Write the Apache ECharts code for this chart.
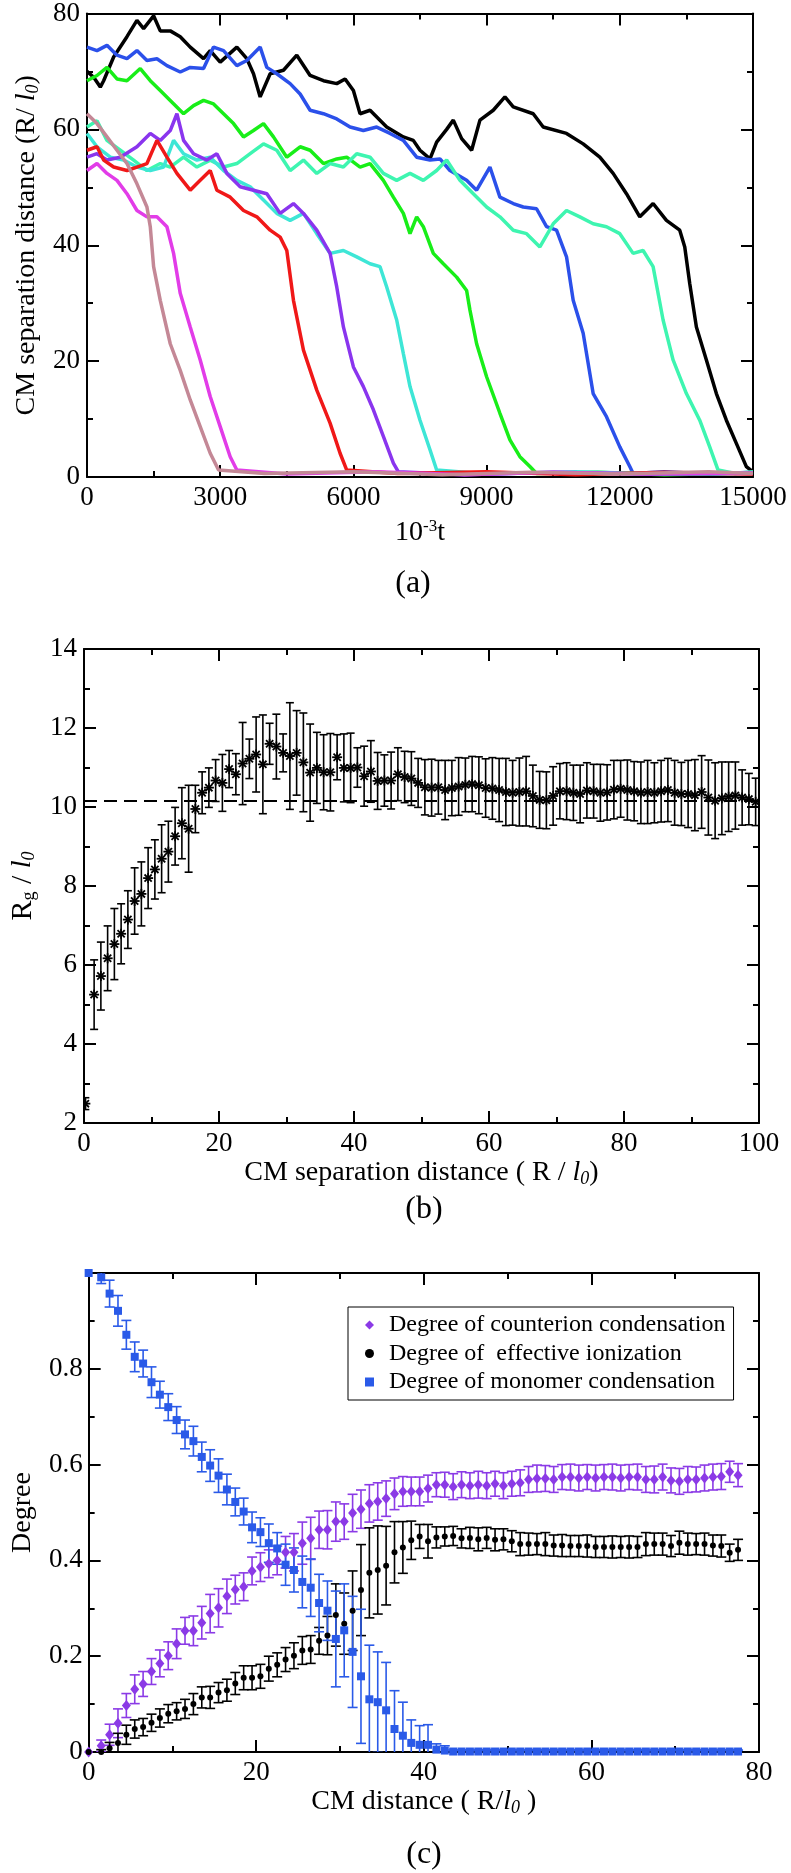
<!DOCTYPE html>
<html><head><meta charset="utf-8">
<script src="https://cdn.jsdelivr.net/npm/echarts@6/dist/echarts.min.js"></script>
<style>html,body{margin:0;padding:0;background:#fff}#c{width:791px;height:1873px}</style>
</head><body><div id="c"></div>
<script>
// ---------- Panel (a): CM separation vs time ----------
const aTicksX = [0, 3000, 6000, 9000, 12000, 15000];
const aTicksY = [0, 20, 40, 60, 80];
const lineBlack = [[0,70],[150,69],[300,67.3],[375,68.4],[600,72.5],[900,76],[1125,78.8],[1275,77.4],[1500,79.6],[1650,77],[1875,77],[2100,76],[2325,74.2],[2625,72.2],[2775,73.6],[3000,71.6],[3375,74.2],[3600,72.2],[3750,69.6],[3900,65.6],[4125,69.6],[4425,70.2],[4725,72.8],[5025,69.3],[5325,68.4],[5625,67.9],[5813,68.7],[6000,66.7],[6150,62.7],[6375,63.3],[6750,60.4],[7125,58.7],[7349,58.1],[7500,56.4],[7725,54.9],[7875,57.8],[8100,60],[8250,61.6],[8438,58.4],[8663,56.4],[8850,61.6],[9150,63.3],[9413,65.6],[9600,63.9],[10050,62.7],[10275,60.4],[10800,59.3],[11175,57.5],[11550,55.2],[11850,52.4],[12150,48.9],[12450,44.9],[12750,47.2],[13050,44.3],[13350,42.6],[13463,39.7],[13575,33.4],[13725,25.9],[13950,20.2],[14175,14.4],[14400,9.8],[14625,5.8],[14850,1.8],[15000,0.9]];
const lineBlue = [[0,74.2],[225,73.6],[450,74.5],[675,72.8],[900,72.2],[1125,73.6],[1350,71.9],[1575,72.2],[1800,71],[2100,69.9],[2325,70.7],[2625,70.5],[2850,74.2],[3075,73.6],[3375,71],[3600,71.9],[3900,74.2],[4050,70.7],[4275,69.6],[4575,67.9],[4800,66.1],[5025,63.3],[5325,62.7],[5625,61.8],[5925,60.4],[6225,59.8],[6525,60.4],[6825,59.3],[7125,58.1],[7425,55.2],[7725,54.7],[7950,54.9],[8175,52.9],[8550,51.2],[8775,49.5],[9075,53.5],[9300,48.3],[9600,47.2],[9825,46.6],[10125,46.3],[10350,43.2],[10575,42.6],[10800,38],[10950,30.5],[11175,24.8],[11400,14.4],[11700,10.4],[12000,5.2],[12225,1.8],[12300,0.6],[13000,0.9],[14000,0.5],[15000,0.8]];
const lineGreen = [[0,68.4],[225,69.3],[450,70.7],[675,68.7],[900,68.4],[1200,70.5],[1425,68.4],[1650,66.7],[1875,65],[2175,62.7],[2400,64.1],[2625,65],[2850,64.4],[3075,62.7],[3300,61],[3525,58.7],[3750,59.8],[3975,61],[4200,58.7],[4500,55.2],[4800,57],[5025,56.4],[5325,54.1],[5625,54.9],[5850,55.2],[6150,53.5],[6375,54.1],[6675,51.2],[6900,48.3],[7125,45.5],[7275,42],[7425,44.9],[7575,43.2],[7800,38.6],[8025,36.8],[8325,34.5],[8550,32.2],[8625,28.8],[8775,23],[9000,17.3],[9300,11],[9525,6.4],[9750,3.5],[9975,1.8],[10125,0.6],[11500,0.8],[13000,0.4],[15000,0.7]];
const lineAqua = [[0,60.4],[225,61.5],[450,58.1],[750,56.4],[1050,54.7],[1350,52.9],[1650,54.1],[1875,53.5],[2175,55.2],[2475,53.5],[2775,54.7],[3075,53.5],[3375,54.1],[3675,55.8],[3975,57.5],[4275,56.4],[4575,52.9],[4875,54.7],[5175,52.4],[5475,54.1],[5775,53.5],[6075,55.8],[6375,55.2],[6675,52.4],[6975,51.2],[7275,52.4],[7575,51.2],[7875,52.9],[8100,54.7],[8400,51.2],[8700,48.9],[9000,46.6],[9300,44.9],[9600,42.6],[9900,42],[10200,39.7],[10500,43.7],[10800,46],[11100,44.9],[11400,43.7],[11700,43.2],[12000,42],[12300,38.6],[12525,39.1],[12750,36.3],[12975,27.1],[13200,20.2],[13500,14.4],[13800,9.8],[14025,5.2],[14213,1.2],[14600,0.6],[15000,0.9]];
const lineTurq = [[0,59.3],[225,57],[525,55.2],[825,54.7],[1125,53.5],[1425,52.9],[1725,53.5],[1950,58.1],[2175,55.8],[2475,54.7],[2775,55.2],[3075,52.9],[3375,51.2],[3675,50.1],[3975,47.8],[4275,45.5],[4575,44.3],[4875,45.5],[5175,42],[5475,38.6],[5775,39.1],[6075,38],[6375,36.8],[6600,36.3],[6750,32.8],[6975,27.1],[7125,21.3],[7275,15.6],[7500,9.8],[7725,4.7],[7875,1.2],[9000,0.5],[11000,0.9],[13000,0.5],[15000,0.7]];
const lineViolet = [[0,55.2],[225,55.8],[450,54.7],[750,55.2],[1125,57],[1425,59.3],[1650,58.1],[1875,59.8],[2025,62.7],[2175,58.1],[2400,55.8],[2700,54.7],[2925,55.8],[3150,52.4],[3450,50.1],[3750,49.5],[4050,48.9],[4350,45.5],[4650,47.2],[4875,45.5],[5175,42.6],[5475,38.6],[5625,32.8],[5775,25.9],[6000,19],[6225,15.6],[6450,11.6],[6675,7],[6900,2.4],[7013,0.9],[8500,0.4],[10500,0.8],[12500,0.5],[15000,0.6]];
const lineRed = [[0,56.4],[225,57],[375,54.7],[600,53.5],[900,52.9],[1125,53.5],[1350,54.1],[1575,58.1],[1800,55.2],[2025,52.4],[2325,49.5],[2550,51.2],[2775,52.9],[2925,49.5],[3225,48.3],[3525,46],[3825,44.9],[4125,42.6],[4350,41.4],[4500,39.1],[4650,30.5],[4875,21.9],[5175,15],[5475,9.3],[5700,4.1],[5850,1.2],[7000,0.6],[9000,0.9],[11000,0.4],[13000,0.8],[15000,0.5]];
const lineMagenta = [[0,52.9],[225,54.1],[450,52.4],[675,51.2],[900,48.9],[1125,46],[1350,44.9],[1575,44.9],[1800,43.2],[1950,38.6],[2100,31.7],[2325,25.9],[2550,20.2],[2775,13.9],[3000,8.7],[3225,3.5],[3375,1.2],[4500,0.5],[6500,0.9],[8500,0.4],[10500,0.8],[12500,0.5],[15000,0.7]];
const lineRosy = [[0,62.7],[225,61],[450,58.7],[675,56.4],[900,54.1],[1125,50.6],[1350,46.6],[1425,43.2],[1500,36.3],[1650,30.5],[1875,23],[2100,18.4],[2325,13.3],[2550,8.7],[2775,4.1],[2963,1.2],[4000,0.6],[6000,0.9],[8000,0.4],[10000,0.8],[12000,0.5],[14000,0.9],[15000,0.6]];

// ---------- Panel (b): Rg vs CM separation ----------
const bTicksX = [0, 20, 40, 60, 80, 100];
const bTicksY = [2, 4, 6, 8, 10, 12, 14];
const rgRef = 10.15;
const xb = [0.2,1.5,2.5,3.5,4.5,5.5,6.5,7.5,8.5,9.5,10.5,11.5,12.5,13.5,14.5,15.5,16.5,17.5,18.5,19.5,20.5,21.5,22.5,23.5,24.5,25.5,26.5,27.5,28.5,29.5,30.5,31.5,32.5,33.5,34.5,35.5,36.5,37.5,38.5,39.5,40.5,41.5,42.5,43.5,44.5,45.5,46.5,47.5,48.5,49.5,50.5,51.5,52.5,53.5,54.5,55.5,56.5,57.5,58.5,59.5,60.5,61.5,62.5,63.5,64.5,65.5,66.5,67.5,68.5,69.5,70.5,71.5,72.5,73.5,74.5,75.5,76.5,77.5,78.5,79.5,80.5,81.5,82.5,83.5,84.5,85.5,86.5,87.5,88.5,89.5,90.5,91.5,92.5,93.5,94.5,95.5,96.5,97.5,98.5,99.5];
const yb = [2.49,5.25,5.72,6.17,6.53,6.79,7.15,7.62,7.80,8.20, 8.42,8.69,8.87,9.26,9.59,9.45,9.95,10.36,10.49,10.67, 10.61,10.96,10.83,11.10,11.22,11.33,11.08,11.60,11.53,11.37, 11.29,11.37,11.13,10.87,10.99,10.88,10.88,11.26,10.99,10.99, 11.00,10.78,10.90,10.66,10.67,10.67,10.83,10.76,10.72,10.61, 10.50,10.49,10.50,10.43,10.48,10.52,10.56,10.58,10.55,10.48, 10.47,10.43,10.38,10.36,10.38,10.40,10.28,10.18,10.17,10.28, 10.40,10.40,10.36,10.33,10.42,10.40,10.36,10.37,10.44,10.46, 10.43,10.40,10.36,10.38,10.36,10.40,10.43,10.36,10.33,10.33, 10.30,10.38,10.24,10.16,10.22,10.26,10.29,10.24,10.20,10.13];
const eb = [0.15,0.88,0.86,0.82,0.9,0.76,0.73,0.84,0.81,0.77, 0.75,0.86,0.77,0.73,0.9,1.1,0.6,0.53,0.5,0.53, 0.72,0.47,0.52,1.04,0.5,0.95,1.25,0.52,0.82,0.48, 1.35,1.07,1.25,1.23,0.9,0.95,0.98,0.57,0.86,0.88, 0.5,0.76,0.78,0.72,0.65,0.72,0.67,0.65,0.68,0.62, 0.7,0.72,0.68,0.75,0.7,0.73,0.68,0.7,0.72,0.74, 0.78,0.8,0.85,0.82,0.86,0.88,0.78,0.72,0.72,0.74, 0.7,0.72,0.7,0.73,0.7,0.68,0.72,0.7,0.74,0.72, 0.76,0.75,0.78,0.8,0.76,0.78,0.8,0.82,0.8,0.85, 0.9,0.92,0.95,0.96,0.92,0.88,0.85,0.7,0.65,0.6];

// ---------- Panel (c): degrees vs CM distance ----------
const cTicksX = [0, 20, 40, 60, 80];
const cTicksY = [0, 0.2, 0.4, 0.6, 0.8, 1.0];
const xc = [0,1.5,2.5,3.5,4.5,5.5,6.5,7.5,8.5,9.5,10.5,11.5,12.5,13.5,14.5,15.5,16.5,17.5,18.5,19.5,20.5,21.5,22.5,23.5,24.5,25.5,26.5,27.5,28.5,29.5,30.5,31.5,32.5,33.5,34.5,35.5,36.5,37.5,38.5,39.5,40.5,41.5,42.5,43.5,44.5,45.5,46.5,47.5,48.5,49.5,50.5,51.5,52.5,53.5,54.5,55.5,56.5,57.5,58.5,59.5,60.5,61.5,62.5,63.5,64.5,65.5,66.5,67.5,68.5,69.5,70.5,71.5,72.5,73.5,74.5,75.5,76.5,77.5];
const counterion = [0,0.013,0.036,0.06,0.097,0.131,0.142,0.168,0.185,0.201, 0.226,0.253,0.253,0.27,0.289,0.301,0.325,0.339,0.345,0.378, 0.386,0.393,0.4,0.417,0.417,0.436,0.446,0.464,0.464,0.481, 0.481,0.499,0.507,0.519,0.523,0.529,0.539,0.544,0.544,0.544, 0.55,0.558,0.558,0.554,0.558,0.556,0.558,0.556,0.56,0.556, 0.56,0.562,0.569,0.571,0.571,0.569,0.574,0.574,0.572,0.574, 0.572,0.574,0.574,0.572,0.574,0.574,0.569,0.569,0.574,0.567, 0.565,0.569,0.569,0.572,0.574,0.575,0.585,0.578];
const counterionErr = [0,0.012,0.022,0.03,0.025,0.03,0.026,0.027,0.028,0.029, 0.031,0.028,0.031,0.034,0.04,0.04,0.036,0.03,0.029,0.029, 0.03,0.029,0.03,0.033,0.039,0.044,0.044,0.039,0.04,0.041, 0.037,0.039,0.04,0.039,0.039,0.037,0.033,0.031,0.03,0.03, 0.028,0.025,0.026,0.027,0.027,0.027,0.028,0.027,0.026,0.027, 0.026,0.027,0.027,0.028,0.027,0.027,0.026,0.027,0.027,0.026, 0.027,0.026,0.027,0.027,0.026,0.027,0.027,0.028,0.027,0.026, 0.027,0.027,0.026,0.027,0.027,0.027,0.022,0.024];
const ionization = [0,0,0.008,0.019,0.036,0.048,0.052,0.061,0.071,0.08, 0.085,0.09,0.1,0.114,0.114,0.124,0.129,0.143,0.155,0.155, 0.158,0.174,0.182,0.193,0.201,0.212,0.214,0.232,0.243,0.286, 0.268,0.295,0.338,0.374,0.38,0.389,0.417,0.427,0.442,0.45, 0.44,0.448,0.45,0.451,0.446,0.447,0.444,0.447,0.443,0.444, 0.44,0.434,0.434,0.434,0.434,0.431,0.431,0.43,0.43,0.43, 0.428,0.428,0.428,0.428,0.428,0.428,0.434,0.434,0.434,0.43, 0.437,0.434,0.434,0.434,0.431,0.43,0.416,0.422];
const ionizationErr = [0,0.005,0.012,0.02,0.02,0.019,0.018,0.018,0.019,0.019, 0.018,0.02,0.022,0.022,0.023,0.021,0.023,0.023,0.025,0.025, 0.025,0.026,0.025,0.025,0.027,0.029,0.029,0.028,0.04,0.065, 0.064,0.083,0.095,0.094,0.092,0.082,0.064,0.054,0.04,0.025, 0.035,0.022,0.02,0.02,0.02,0.022,0.024,0.022,0.023,0.022, 0.022,0.024,0.023,0.022,0.024,0.022,0.023,0.022,0.022,0.023, 0.022,0.022,0.023,0.022,0.023,0.022,0.024,0.023,0.023,0.022, 0.024,0.023,0.022,0.023,0.022,0.023,0.018,0.022];
const monomer = [1.0,0.991,0.957,0.921,0.871,0.825,0.811,0.772,0.746,0.72, 0.693,0.663,0.649,0.616,0.598,0.577,0.548,0.522,0.502,0.469, 0.459,0.436,0.425,0.391,0.38,0.355,0.343,0.311,0.295,0.236, 0.254,0.209,0.158,0.11,0.104,0.087,0.048,0.034,0.019,0.015, 0.015,0.005,0.003,0.001,0.001,0.001,0.001,0.001,0.001,0.001, 0.001,0.001,0.001,0.001,0.001,0.001,0.001,0.001,0.001,0.001, 0.001,0.001,0.001,0.001,0.001,0.001,0.001,0.001,0.001,0.001, 0.001,0.001,0.001,0.001,0.001,0.001,0.001,0.001];
const monomerErr = [0,0.013,0.028,0.032,0.03,0.031,0.028,0.032,0.028,0.028, 0.028,0.03,0.031,0.031,0.033,0.035,0.032,0.029,0.028,0.032, 0.03,0.04,0.033,0.043,0.046,0.054,0.06,0.06,0.062,0.1, 0.097,0.116,0.14,0.113,0.105,0.1,0.08,0.07,0.048,0.04, 0.042,0.012,0.01,0.003,0.003,0.003,0.003,0.003,0.003,0.003, 0.003,0.003,0.003,0.003,0.003,0.003,0.003,0.003,0.003,0.003, 0.003,0.003,0.003,0.003,0.003,0.003,0.003,0.003,0.003,0.003, 0.003,0.003,0.003,0.003,0.003,0.003,0.003,0.003];
const legendNames = ['Degree of counterion condensation', 'Degree of  effective ionization', 'Degree of monomer condensation'];

// ---------- styling ----------
const FF = 'Liberation Serif, Times New Roman, serif';
const TICK_FS = 27;
const richBase = {
  i: {fontFamily: FF, fontStyle: 'italic', fontSize: 28, lineHeight: 30, color: '#000'},
  sub: {fontFamily: FF, fontStyle: 'italic', fontSize: 18, lineHeight: 12, verticalAlign: 'bottom', color: '#000'},
  subn: {fontFamily: FF, fontSize: 18, lineHeight: 12, verticalAlign: 'bottom', color: '#000'},
  sup: {fontFamily: FF, fontSize: 17, lineHeight: 12, verticalAlign: 'top', color: '#000'}
};
function plainNum(v) { return String(Math.round(v * 1000) / 1000); }

function axis(gi, pos, ticks, labels, extra) {
  const step = ticks[1] - ticks[0];
  const a = {
    type: 'value', gridIndex: gi, position: pos,
    min: ticks[0], max: ticks[ticks.length - 1], interval: step,
    axisLine: {show: true, onZero: false, lineStyle: {color: '#000', width: 2}},
    axisTick: {show: true, inside: true, length: 12, lineStyle: {color: '#000', width: 2}},
    minorTick: {show: true, splitNumber: 2, length: 6, lineStyle: {color: '#000', width: 2}},
    splitLine: {show: false}, minorSplitLine: {show: false},
    axisLabel: {show: labels, color: '#000', fontFamily: FF, fontSize: TICK_FS, margin: 7, formatter: plainNum}
  };
  return Object.assign(a, extra || {});
}
function nameStyle(size) {
  return {color: '#000', fontFamily: FF, fontSize: size, lineHeight: 30, rich: richBase};
}

function errRender(color, cap, star) {
  return function (params, api) {
    const x = api.value(0), y = api.value(1), e = api.value(2);
    const c = api.coord([x, y]);
    const t = api.coord([x, y + e]);
    const b = api.coord([x, y - e]);
    const st = {stroke: color, lineWidth: 1.6};
    const ch = [];
    if (e > 0) {
      ch.push({type: 'line', shape: {x1: c[0], y1: t[1], x2: c[0], y2: b[1]}, style: st});
      ch.push({type: 'line', shape: {x1: c[0] - cap, y1: t[1], x2: c[0] + cap, y2: t[1]}, style: st});
      ch.push({type: 'line', shape: {x1: c[0] - cap, y1: b[1], x2: c[0] + cap, y2: b[1]}, style: st});
    }
    if (star) {
      const r = 5, d = 3.6, s2 = {stroke: '#000', lineWidth: 1.8};
      ch.push({type: 'line', shape: {x1: c[0] - r, y1: c[1], x2: c[0] + r, y2: c[1]}, style: s2});
      ch.push({type: 'line', shape: {x1: c[0], y1: c[1] - r, x2: c[0], y2: c[1] + r}, style: s2});
      ch.push({type: 'line', shape: {x1: c[0] - d, y1: c[1] - d, x2: c[0] + d, y2: c[1] + d}, style: s2});
      ch.push({type: 'line', shape: {x1: c[0] - d, y1: c[1] + d, x2: c[0] + d, y2: c[1] - d}, style: s2});
    }
    return {type: 'group', children: ch};
  };
}

const aLines = [
  [lineBlack, '#000000'], [lineBlue, '#2b50ea'], [lineGreen, '#18ee18'], [lineAqua, '#3ef5b0'],
  [lineTurq, '#3ee6d6'], [lineViolet, '#8a35ee'], [lineRed, '#f01818'], [lineMagenta, '#e23ce8'], [lineRosy, '#c48896']
];

const COL_P = '#8b3ae6', COL_K = '#000000', COL_B = '#2a5ae8';

const series = [];
aLines.forEach(function (l, k) {
  series.push({type: 'line', xAxisIndex: 0, yAxisIndex: 0, data: l[0], showSymbol: false, symbol: 'none',
    lineStyle: {color: l[1], width: 3.5}, itemStyle: {color: l[1]}, z: 2 + k * 0.01, clip: true, silent: true});
});
series.push({type: 'line', xAxisIndex: 2, yAxisIndex: 2, data: [[bTicksX[0], rgRef], [bTicksX[bTicksX.length - 1], rgRef]],
  showSymbol: false, symbol: 'none', lineStyle: {color: '#000', width: 2, type: [13, 7]}, silent: true});
series.push({type: 'custom', xAxisIndex: 2, yAxisIndex: 2, clip: true, silent: true,
  data: xb.map(function (x, i) { return [x, yb[i], eb[i]]; }),
  encode: {x: 0, y: 1}, renderItem: errRender('#000', 4, true)});

const cSets = [
  [legendNames[0], counterion, counterionErr, COL_P, 'diamond', [9, 11]],
  [legendNames[1], ionization, ionizationErr, COL_K, 'circle', 6],
  [legendNames[2], monomer, monomerErr, COL_B, 'rect', 8]
];
cSets.forEach(function (s) {
  series.push({type: 'custom', name: s[0] + ' err', xAxisIndex: 4, yAxisIndex: 4, clip: true, silent: true,
    data: xc.map(function (x, i) { return [x, s[1][i], s[2][i]]; }),
    encode: {x: 0, y: 1}, renderItem: errRender(s[3], 5, false)});
  series.push({type: 'scatter', name: s[0], xAxisIndex: 4, yAxisIndex: 4, clip: true, silent: true,
    data: xc.map(function (x, i) { return [x, s[1][i]]; }),
    symbol: s[4], symbolSize: s[5], itemStyle: {color: s[3], opacity: 1}});
});

const option = {
  animation: false,
  backgroundColor: '#fff',
  textStyle: {fontFamily: FF, color: '#000'},
  grid: [
    {left: 87, top: 13, width: 666, height: 464},
    {left: 82, top: 649, width: 677, height: 474},
    {left: 74, top: 1273, width: 685, height: 479}
  ],
  xAxis: [
    axis(0, 'bottom', aTicksX, true, {name: '10{sup|-3}t', nameLocation: 'middle', nameGap: 41, nameTextStyle: nameStyle(28)}),
    axis(0, 'top', aTicksX, false),
    axis(1, 'bottom', bTicksX, true, {name: 'CM separation distance ( R / {i|l}{sub|0})', nameLocation: 'middle', nameGap: 33, nameTextStyle: nameStyle(28)}),
    axis(1, 'top', bTicksX, false),
    axis(2, 'bottom', cTicksX, true, {name: 'CM distance ( R/{i|l}{sub|0} )', nameLocation: 'middle', nameGap: 33, nameTextStyle: nameStyle(28)}),
    axis(2, 'top', cTicksX, false)
  ],
  yAxis: [
    axis(0, 'left', aTicksY, true, {name: 'CM separation distance (R/ {i|l}{sub|0})', nameLocation: 'middle', nameRotate: 90, nameGap: 45, nameTextStyle: nameStyle(28)}),
    axis(0, 'right', aTicksY, false),
    axis(1, 'left', bTicksY, true, {name: 'R{subn|g} / {i|l}{sub|0}', nameLocation: 'middle', nameRotate: 90, nameGap: 46, nameTextStyle: nameStyle(30)}),
    axis(1, 'right', bTicksY, false),
    axis(2, 'left', cTicksY, true, {name: 'Degree', nameLocation: 'middle', nameRotate: 90, nameGap: 48, nameTextStyle: nameStyle(28),
      axisLabel: {show: true, color: '#000', fontFamily: FF, fontSize: TICK_FS, margin: 6,
        formatter: function (v) { if (v > 0.95) return ''; if (Math.abs(v) < 1e-9) return '0'; return v.toFixed(1); }}}),
    axis(2, 'right', cTicksY, false)
  ],
  legend: {
    data: [{name: legendNames[0], icon: 'diamond'}, {name: legendNames[1], icon: 'circle'}, {name: legendNames[2], icon: 'rect'}],
    orient: 'vertical', left: 348, top: 1307,
    padding: [6, 8, 6, 17], itemGap: 4.5, itemWidth: 9, itemHeight: 9,
    borderColor: '#000', borderWidth: 1, borderRadius: 0, backgroundColor: '#fff',
    selectedMode: false,
    textStyle: {color: '#000', fontFamily: FF, fontSize: 24, padding: [0, 0, 0, 10]}
  },
  graphic: [
    {type: 'text', x: 413, y: 584, style: {text: '(a)', font: '32px Liberation Serif, serif', fill: '#000', textAlign: 'center', textVerticalAlign: 'middle'}},
    {type: 'text', x: 424, y: 1210, style: {text: '(b)', font: '32px Liberation Serif, serif', fill: '#000', textAlign: 'center', textVerticalAlign: 'middle'}},
    {type: 'text', x: 424, y: 1855, style: {text: '(c)', font: '32px Liberation Serif, serif', fill: '#000', textAlign: 'center', textVerticalAlign: 'middle'}}
  ],
  series: series
};
const chart = echarts.init(document.getElementById('c'), null, {renderer: 'canvas'});
chart.setOption(option);
</script></body></html>
